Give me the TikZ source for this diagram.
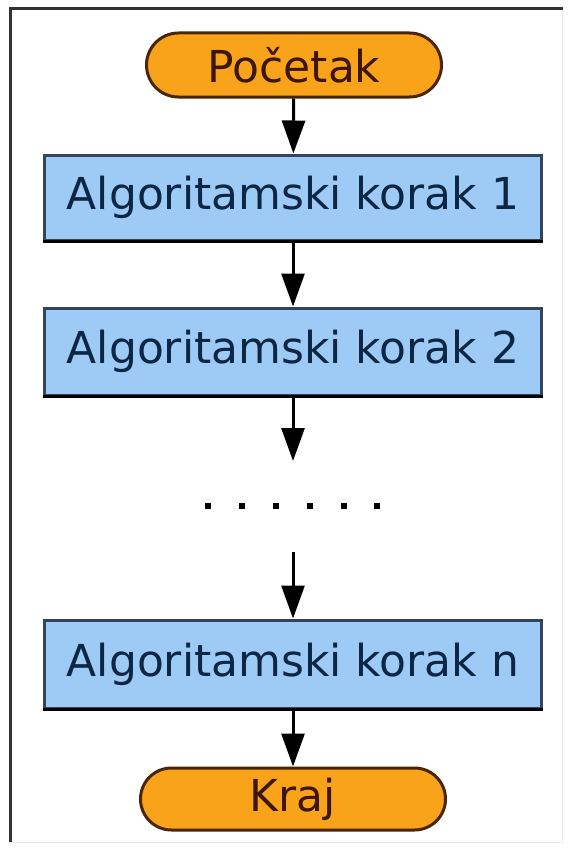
\documentclass[tikz,border=0pt]{standalone}
\usepackage{fontspec}
\setmainfont{DejaVu Sans}
\usetikzlibrary{arrows.meta}

\definecolor{termfill}{HTML}{F9A31A}
\definecolor{termdraw}{HTML}{4A2600}
\definecolor{termtext}{HTML}{3C1600}
\definecolor{stepfill}{HTML}{9DCBF6}
\definecolor{stepdraw}{HTML}{34445A}
\definecolor{steptext}{HTML}{0C2644}

\begin{document}
\begin{tikzpicture}[x=1pt,y=-1pt]
\useasboundingbox (0,0) rectangle (569,851);
\fill[white] (0,0) rectangle (569,851);
% window frame
\draw[line width=1pt,black!8] (562,9) -- (562,842) -- (10,842);
\draw[line width=3pt,black!80] (10,842) -- (10,9) -- (563,9);

\begin{scope}[every node/.style={font=\fontsize{44}{50}\selectfont,inner sep=0pt}]
    \node[draw=termdraw,fill=termfill,text=termtext,line width=3pt,
          rounded corners=32pt,minimum width=295pt,minimum height=64pt] (start) at (294,65) {Početak};
    \node[draw=stepdraw,fill=stepfill,text=steptext,line width=3pt,
          minimum width=497pt,minimum height=85pt] (k1) at (293,197.5) {Algoritamski korak 1};
    \node[draw=stepdraw,fill=stepfill,text=steptext,line width=3pt,
          minimum width=497pt,minimum height=87pt] (k2) at (293,351.5) {Algoritamski korak 2};
    \node[draw=stepdraw,fill=stepfill,text=steptext,line width=3pt,
          minimum width=497pt,minimum height=88pt] (kn) at (293,664) {Algoritamski korak n};
    \node[draw=termdraw,fill=termfill,text=termtext,line width=3pt,
          rounded corners=31pt,minimum width=305pt,minimum height=62pt] (end) at (293,799) {Kraj};
\end{scope}
% darker bottom edges of the step boxes
\foreach \k in {k1,k2,kn}
    \draw[line width=3pt,black] (\k.south west) -- (\k.south east);

% gap in the chain of steps
\coordinate (gaptop) at (293,461);
\coordinate (gapbot) at (293,552);
\foreach \x in {208,242,276,310,344,377}
    \fill[black] (\x-3,503) rectangle (\x+3,509);

\begin{scope}[>={Triangle[length=33pt,width=23pt]},
              every edge/.style={draw=black,line width=3pt}]
    \path [->] (start) edge (k1);
    \path [->] (k1) edge (k2);
    \path [->] (k2) edge (gaptop);
    \path [->] (gapbot) edge (kn);
    \path [->] (kn) edge (end);
\end{scope}
\end{tikzpicture}
\end{document}
